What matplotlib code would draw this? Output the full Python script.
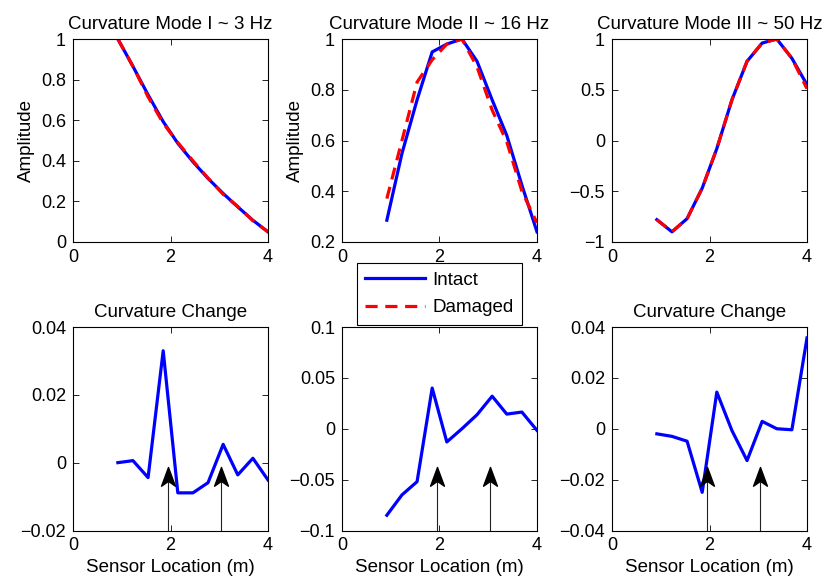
import matplotlib
matplotlib.use("Agg")
import matplotlib.pyplot as plt
from matplotlib.path import Path
from matplotlib.lines import Line2D

plt.rcParams["font.family"] = ["Liberation Sans", "DejaVu Sans"]

# Sensor positions along the beam (m)
sensor_x = [0.92, 1.23, 1.54, 1.85, 2.15, 2.46, 2.77, 3.08, 3.38, 3.69, 4.0]

# Normalised curvature mode shapes
mode1_intact = [1.00, 0.865, 0.725, 0.593, 0.486, 0.395, 0.313, 0.239, 0.173, 0.107, 0.05]
mode1_damaged = [1.00, 0.865, 0.715, 0.585, 0.49, 0.40, 0.315, 0.235, 0.175, 0.105, 0.05]
mode2_intact = [0.286, 0.549, 0.76, 0.949, 0.98, 1.0, 0.912, 0.76, 0.62, 0.424, 0.24]
mode2_damaged = [0.371, 0.60, 0.83, 0.918, 0.98, 1.0, 0.89, 0.72, 0.595, 0.40, 0.275]
mode3_intact = [-0.78, -0.90, -0.77, -0.47, -0.08, 0.40, 0.78, 0.96, 1.0, 0.81, 0.55]
mode3_damaged = [-0.78, -0.90, -0.77, -0.47, -0.08, 0.40, 0.78, 0.96, 1.0, 0.81, 0.51]

# Curvature change (intact - damaged) per mode
change1 = [0.0, 0.0006, -0.0044, 0.033, -0.0089, -0.0089, -0.0059, 0.0054, -0.0036, 0.0013, -0.0051]
change2 = [-0.085, -0.065, -0.052, 0.040, -0.013, 0.0, 0.0138, 0.032, 0.0144, 0.0164, -0.0016]
change3 = [-0.002, -0.003, -0.0049, -0.025, 0.0144, -0.0007, -0.0125, 0.0029, 0.0, -0.0004, 0.0357]

# Damage locations marked with arrows (m)
damage_x = [1.95, 3.04]

mode_titles = ["Curvature Mode I ~ 3 Hz", "Curvature Mode II ~ 16 Hz", "Curvature Mode III ~ 50 Hz"]
# the middle change panel's title sits under the legend box
change_titles = ["Curvature Change", None, "Curvature Change"]
x_ticks = [0, 2, 4]
mode_yticks = [[0, 0.2, 0.4, 0.6, 0.8, 1], [0.2, 0.4, 0.6, 0.8, 1], [-1, -0.5, 0, 0.5, 1]]
change_yticks = [[-0.02, 0, 0.02, 0.04], [-0.1, -0.05, 0, 0.05, 0.1], [-0.04, -0.02, 0, 0.02, 0.04]]

FS_TICK = 13
FS_TEXT = 13.5
LW = 2.3


def fmt(v):
    s = "%g" % v
    return s.replace("-", "\u2212")


def style_axis(ax, yticks):
    ax.set_xlim(0, 4)
    ax.set_ylim(yticks[0], yticks[-1])
    ax.set_xticks(x_ticks)
    ax.set_xticklabels([fmt(t) for t in x_ticks])
    ax.set_yticks(yticks)
    ax.set_yticklabels([fmt(t) for t in yticks])
    ax.tick_params(direction="in", length=4, width=0.6, top=True, right=True,
                   labelsize=FS_TICK, pad=5)
    for sp in ax.spines.values():
        sp.set_linewidth(0.8)


fig = plt.figure(figsize=(8.27, 5.84), dpi=100)
W, H = 827.0, 584.0
lefts = [73, 342, 612]
width = 195
top_row = (39, 242)
bot_row = (327, 530.5)

mode_int = [mode1_intact, mode2_intact, mode3_intact]
mode_dam = [mode1_damaged, mode2_damaged, mode3_damaged]
changes = [change1, change2, change3]

head = Path([(0, 0), (-0.37, -1), (0, -0.74), (0.37, -1), (0, 0)],
            [Path.MOVETO, Path.LINETO, Path.LINETO, Path.LINETO, Path.CLOSEPOLY])

for i in range(3):
    ax = fig.add_axes([lefts[i] / W, 1 - top_row[1] / H, width / W, (top_row[1] - top_row[0]) / H])
    ax.plot(sensor_x, mode_int[i], color=(0, 0, 1), lw=LW)
    ax.plot(sensor_x, mode_dam[i], color=(1, 0, 0), lw=LW, dashes=(3.8, 2.4))
    style_axis(ax, mode_yticks[i])
    ax.set_title(mode_titles[i], fontsize=FS_TEXT, pad=7)
    if i < 2:
        ax.set_ylabel("Amplitude", fontsize=FS_TEXT, labelpad=4)

    axb = fig.add_axes([lefts[i] / W, 1 - bot_row[1] / H, width / W, (bot_row[1] - bot_row[0]) / H])
    axb.plot(sensor_x, changes[i], color=(0, 0, 1), lw=LW)
    style_axis(axb, change_yticks[i])
    if change_titles[i]:
        axb.set_title(change_titles[i], fontsize=FS_TEXT, pad=7)
    axb.set_xlabel("Sensor Location (m)", fontsize=FS_TEXT, labelpad=3)
    tr = axb.get_xaxis_transform()
    for dx in damage_x:
        axb.plot([dx, dx], [0, 0.29], transform=tr, color="#222222", lw=0.8,
                 solid_capstyle="butt", zorder=4)
        axb.plot([dx], [0.31], transform=tr, marker=head, markersize=27,
                 color="black", linestyle="none", zorder=5)

handles = [Line2D([], [], color=(0, 0, 1), lw=LW),
           Line2D([], [], color=(1, 0, 0), lw=LW, dashes=(3.8, 2.4))]
leg = fig.legend(handles, ["Intact", "Damaged"], loc="center",
                 bbox_to_anchor=(439.5 / W, 1 - 294 / H), fontsize=FS_TEXT,
                 handlelength=3.2, handletextpad=0.4, borderpad=0.45,
                 labelspacing=0.55, fancybox=False, framealpha=1, edgecolor="black")
leg.get_frame().set_linewidth(0.8)

fig.savefig("out.png", dpi=100)
